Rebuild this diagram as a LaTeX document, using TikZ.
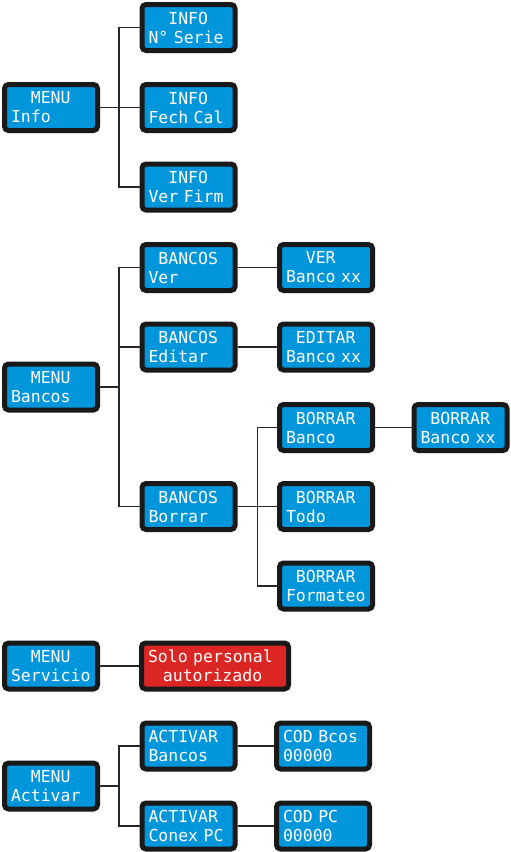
\documentclass[tikz,border=0pt]{standalone}
\usepackage{fontspec}
\newfontfamily\lcdfont{DejaVu Sans Mono}
\definecolor{lcdblue}{RGB}{0,150,220}
\definecolor{lcdred}{RGB}{220,38,36}
\newcommand{\skipc}[1]{\hspace*{#1\fontcharwd\font`\0}}

\tikzset{
  screen/.style={draw=black!90, fill=lcdblue, line width=5pt, rounded corners=4pt,
    minimum width=93pt, minimum height=46pt, text width=80pt,
    inner xsep=6.5pt, inner ysep=0pt, align=left, text=white,
    font=\lcdfont\fontsize{16.5}{19}\selectfont},
  alert/.style={screen, fill=lcdred, minimum width=147pt, text width=134pt},
  wire/.style={line width=1.5pt, black!85}
}

\begin{document}
\begin{tikzpicture}[x=1pt,y=-1pt]
  \useasboundingbox (0,0) rectangle (511,852);
  % Info menu
  \node[screen] (minfo) at (51,107.5) {\skipc{2}MENU\\Info};
  \node[screen] (infoA) at (188.5,27.5) {\skipc{2}INFO\\N° Serie};
  \node[screen] (infoB) at (188.5,107.5) {\skipc{2}INFO\\Fech Cal};
  \node[screen] (infoC) at (188.5,187) {\skipc{2}INFO\\Ver Firm};
  % Bancos menu
  \node[screen] (mbancos) at (51,387) {\skipc{2}MENU\\Bancos};
  \node[screen] (bver) at (188.5,267.5) {\skipc{1}BANCOS\\Ver};
  \node[screen] (bedit) at (188.5,347) {\skipc{1}BANCOS\\Editar};
  \node[screen] (bborrar) at (188.5,506.5) {\skipc{1}BANCOS\\Borrar};
  \node[screen] (verxx) at (326,267.5) {\skipc{2}VER\\Banco xx};
  \node[screen] (editxx) at (326,347) {\skipc{1}EDITAR\\Banco xx};
  \node[screen] (borrbanco) at (326,427.5) {\skipc{1}BORRAR\\Banco};
  \node[screen] (borrxx) at (460.5,427.5) {\skipc{1}BORRAR\\Banco xx};
  \node[screen] (borrtodo) at (326,506.5) {\skipc{1}BORRAR\\Todo};
  \node[screen] (borrform) at (326,586) {\skipc{1}BORRAR\\Formateo};
  % Servicio menu
  \node[screen] (mserv) at (51,666) {\skipc{2}MENU\\Servicio};
  \node[alert] (solo) at (215,666) {Solo personal\\\skipc{1.5}autorizado};
  % Activar menu
  \node[screen] (mactivar) at (51,786) {\skipc{2}MENU\\Activar};
  \node[screen] (actbancos) at (188.5,746) {ACTIVAR\\Bancos};
  \node[screen] (actpc) at (188.5,826) {ACTIVAR\\Conex PC};
  \node[screen] (codbcos) at (323,746) {COD Bcos\\00000};
  \node[screen] (codpc) at (323,826) {COD PC\\00000};
  % Wires
  \foreach \c in {infoA,infoB,infoC}
    \draw[wire] (minfo.east) -- ++(19,0) |- (\c.west);
  \foreach \c in {bver,bedit,bborrar}
    \draw[wire] (mbancos.east) -- ++(19,0) |- (\c.west);
  \foreach \c in {borrbanco,borrtodo,borrform}
    \draw[wire] (bborrar.east) -- ++(20,0) |- (\c.west);
  \draw[wire] (bver) -- (verxx);
  \draw[wire] (bedit) -- (editxx);
  \draw[wire] (borrbanco) -- (borrxx);
  \draw[wire] (mserv) -- (solo);
  \foreach \c in {actbancos,actpc}
    \draw[wire] (mactivar.east) -- ++(19,0) |- (\c.west);
  \draw[wire] (actbancos) -- (codbcos);
  \draw[wire] (actpc) -- (codpc);
\end{tikzpicture}
\end{document}
